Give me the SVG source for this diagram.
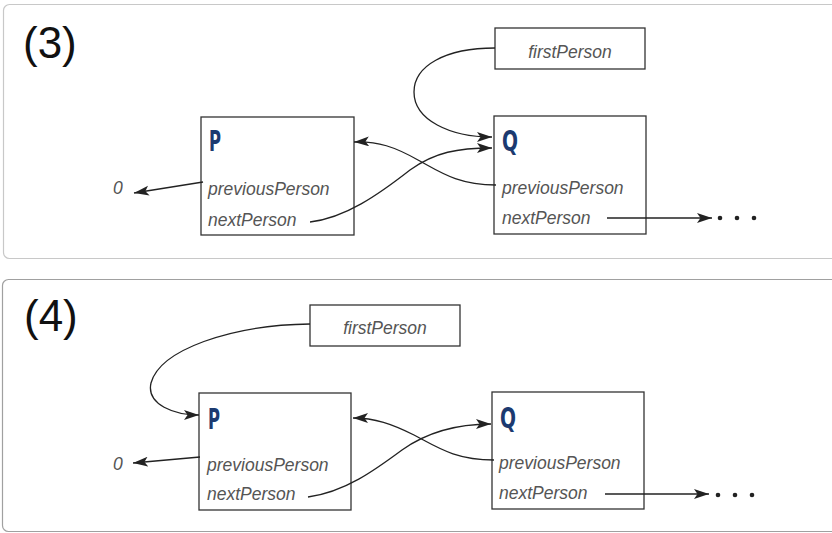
<svg xmlns="http://www.w3.org/2000/svg" width="832" height="533" viewBox="0 0 832 533">
<defs>
<marker id="ah" markerWidth="16" markerHeight="12" refX="15" refY="5" orient="auto" markerUnits="userSpaceOnUse">
<path d="M0,0 L15,5 L0,10 L3.5,5 z" fill="#222"/>
</marker>
<style>
.panel{fill:#fff;stroke-width:1.2}
.box{fill:#fff;stroke:#333;stroke-width:1.3}
.lbl{font-family:"Liberation Sans",Arial,sans-serif;font-style:italic;font-size:17.5px;fill:#555}
.big{font-family:"Liberation Sans",Arial,sans-serif;font-size:44px;fill:#111}
.nm{font-family:"Liberation Sans Narrow","DejaVu Sans Condensed",sans-serif;font-weight:bold;font-size:29px;fill:#1c3a70}
.con{fill:none;stroke:#222;stroke-width:1.3;marker-end:url(#ah)}
.dot{fill:#222}
</style>
</defs>
<rect width="832" height="533" fill="#fff"/>

<g id="panel3">
<rect class="panel" x="3.5" y="4.5" width="840" height="254" rx="6" stroke="#c8c8c8"/>
<text class="big" x="23" y="58">(3)</text>
</g>
<g id="panel4">
<rect class="panel" x="2.5" y="279.5" width="840" height="252" rx="6" stroke="#a0a0a0"/>
<text class="big" x="24" y="331">(4)</text>
</g>

<!-- Panel 3 nodes -->
<g id="p3-first">
<rect class="box" x="495" y="28" width="150" height="41"/>
<text class="lbl" x="570" y="58" text-anchor="middle">firstPerson</text>
</g>
<g id="p3-P">
<rect class="box" x="201" y="117" width="153" height="118"/>
<text class="nm" x="209" y="151" textLength="12" lengthAdjust="spacingAndGlyphs">P</text>
<text class="lbl" x="208" y="195">previousPerson</text>
<text class="lbl" x="208" y="226">nextPerson</text>
</g>
<g id="p3-Q">
<rect class="box" x="494" y="116" width="152" height="118"/>
<text class="nm" x="502" y="151" textLength="16" lengthAdjust="spacingAndGlyphs">Q</text>
<text class="lbl" x="502" y="194">previousPerson</text>
<text class="lbl" x="502" y="224">nextPerson</text>
</g>
<g id="p3-zero">
<text class="lbl" x="113" y="194">0</text>
</g>
<g id="p3-dots">
<circle class="dot" cx="720" cy="218" r="2.3"/>
<circle class="dot" cx="737" cy="218" r="2.3"/>
<circle class="dot" cx="754" cy="218" r="2.3"/>
</g>

<!-- Panel 4 nodes -->
<g id="p4-first">
<rect class="box" x="310" y="305" width="150" height="41"/>
<text class="lbl" x="385" y="334" text-anchor="middle">firstPerson</text>
</g>
<g id="p4-P">
<rect class="box" x="199" y="393" width="152" height="117"/>
<text class="nm" x="208" y="429" textLength="12" lengthAdjust="spacingAndGlyphs">P</text>
<text class="lbl" x="207" y="471">previousPerson</text>
<text class="lbl" x="207" y="500">nextPerson</text>
</g>
<g id="p4-Q">
<rect class="box" x="492" y="392" width="152" height="117"/>
<text class="nm" x="500" y="428" textLength="16" lengthAdjust="spacingAndGlyphs">Q</text>
<text class="lbl" x="499" y="469">previousPerson</text>
<text class="lbl" x="499" y="499">nextPerson</text>
</g>
<g id="p4-zero">
<text class="lbl" x="113" y="470">0</text>
</g>
<g id="p4-dots">
<circle class="dot" cx="718" cy="495" r="2.3"/>
<circle class="dot" cx="735" cy="495" r="2.3"/>
<circle class="dot" cx="752" cy="495" r="2.3"/>
</g>

<g id="connectors">
<path class="con" d="M495,48 C445,48 414,66 414,92 C414,120 450,137 492,137"/>
<path class="con" d="M310,222 C345,218 378,195 410,170 C435,152 458,148 492,148"/>
<path class="con" d="M496,185 C458,185 440,172 418,160 C395,147 378,141 354,142"/>
<path class="con" d="M203,182 L134,193"/>
<path class="con" d="M607,218 L712,218"/>

<path class="con" d="M310,324 C230,325 160,350 151,383 C146,405 175,415 199,415"/>
<path class="con" d="M308,497 C345,492 375,470 402,450 C430,430 460,424 491,424"/>
<path class="con" d="M494,460 C455,460 437,447 414,435 C392,424 375,418 353,418"/>
<path class="con" d="M200,457 L133,463"/>
<path class="con" d="M605,494 L709,494"/>
</g>
</svg>
